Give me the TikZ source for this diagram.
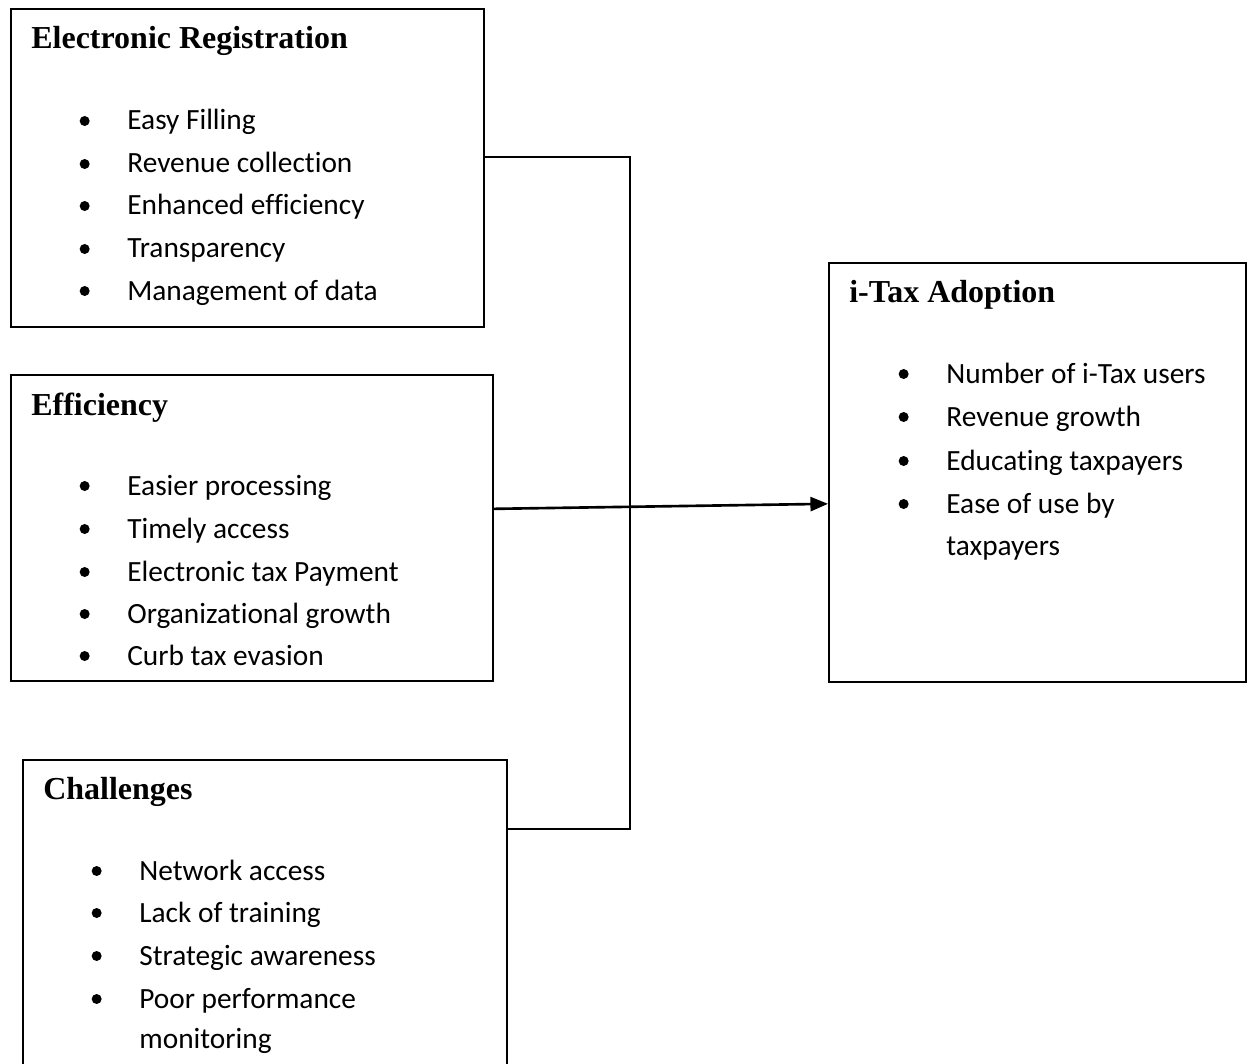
\documentclass[tikz,border=0pt]{standalone}
\usepackage{fontspec}
\setmainfont{Liberation Serif}
\newfontfamily\itemfont[Ligatures=NoCommon]{Carlito}
\usepackage{tikz}
\usetikzlibrary{positioning,arrows.meta}
\tikzset{
  box/.style={draw, line width=1pt, anchor=north west, inner sep=0pt},
  boxtitle/.style={anchor=base west, inner sep=0pt, font=\fontsize{18.2}{22}\selectfont\bfseries},
  entry/.style={anchor=base west, inner sep=0pt, font=\itemfont\fontsize{16.7}{20}\selectfont},
  dot/.style={circle, fill, inner sep=0pt, minimum size=0.2cm},
  link/.style={line width=1pt},
}
\newcommand{\ctbox}[4] {\node at (#1) (#2) [box, minimum width=#3, minimum height=#4] {};}
\newcommand{\cttitle}[3] {\node at (#1) (#2) [boxtitle] {#3};}
\newcommand{\ctitem}[3] {\node at (#1) (#2) [entry] {#3}; \node (#2dot) [dot, left=0.74cm of #2.base west, yshift=0.18cm] {};}
\newcommand{\ctmore}[3] {\node at (#1) (#2) [entry] {#3};}

\begin{document}
\begin{tikzpicture}[x=0.02cm, y=-0.02cm]
\useasboundingbox (0,0) rectangle (1248,1064);
\clip (0,0) rectangle (1248,1064);

\ctbox {10,8} {reg} {9.46cm} {6.36cm};
\cttitle {31,49} {regtitle} {Electronic Registration};
\ctitem {127,130} {reg1} {Easy Filling};
\ctitem {127,173} {reg2} {Revenue collection};
\ctitem {127,215} {reg3} {Enhanced efficiency};
\ctitem {127,258} {reg4} {Transparency};
\ctitem {127,300} {reg5} {Management of data};

\ctbox {10,374} {eff} {9.64cm} {6.12cm};
\cttitle {31,415} {efftitle} {Efficiency};
\ctitem {127,495} {eff1} {Easier processing};
\ctitem {127,538} {eff2} {Timely access};
\ctitem {127,581} {eff3} {Electronic tax Payment};
\ctitem {127,623} {eff4} {Organizational growth};
\ctitem {127,665} {eff5} {Curb tax evasion};

\ctbox {22,759} {chal} {9.68cm} {6.22cm};
\cttitle {43,799} {chaltitle} {Challenges};
\ctitem {139,880} {chal1} {Network access};
\ctitem {139,922} {chal2} {Lack of training};
\ctitem {139,965} {chal3} {Strategic awareness};
\ctitem {139,1008} {chal4} {Poor performance};
\ctmore {139,1048} {chal4b} {monitoring};

\ctbox {828,262} {tax} {8.34cm} {8.38cm};
\cttitle {849,303} {taxtitle} {i-Tax Adoption};
\ctitem {946,383} {tax1} {Number of i-Tax users};
\ctitem {946,426} {tax2} {Revenue growth};
\ctitem {946,470} {tax3} {Educating taxpayers};
\ctitem {946,513} {tax4} {Ease of use by};
\ctmore {946,555} {tax4b} {taxpayers};

\draw [link] ([yshift=0.22cm]reg.east) -- ++(145,0) |- ([yshift=1.73cm]chal.east);
\draw [link, line width=1.5pt, -{Triangle[length=10pt,width=8pt]}] ([yshift=0.38cm]eff.east) -- ([yshift=-0.63cm]tax.west);

\end{tikzpicture}
\end{document}
